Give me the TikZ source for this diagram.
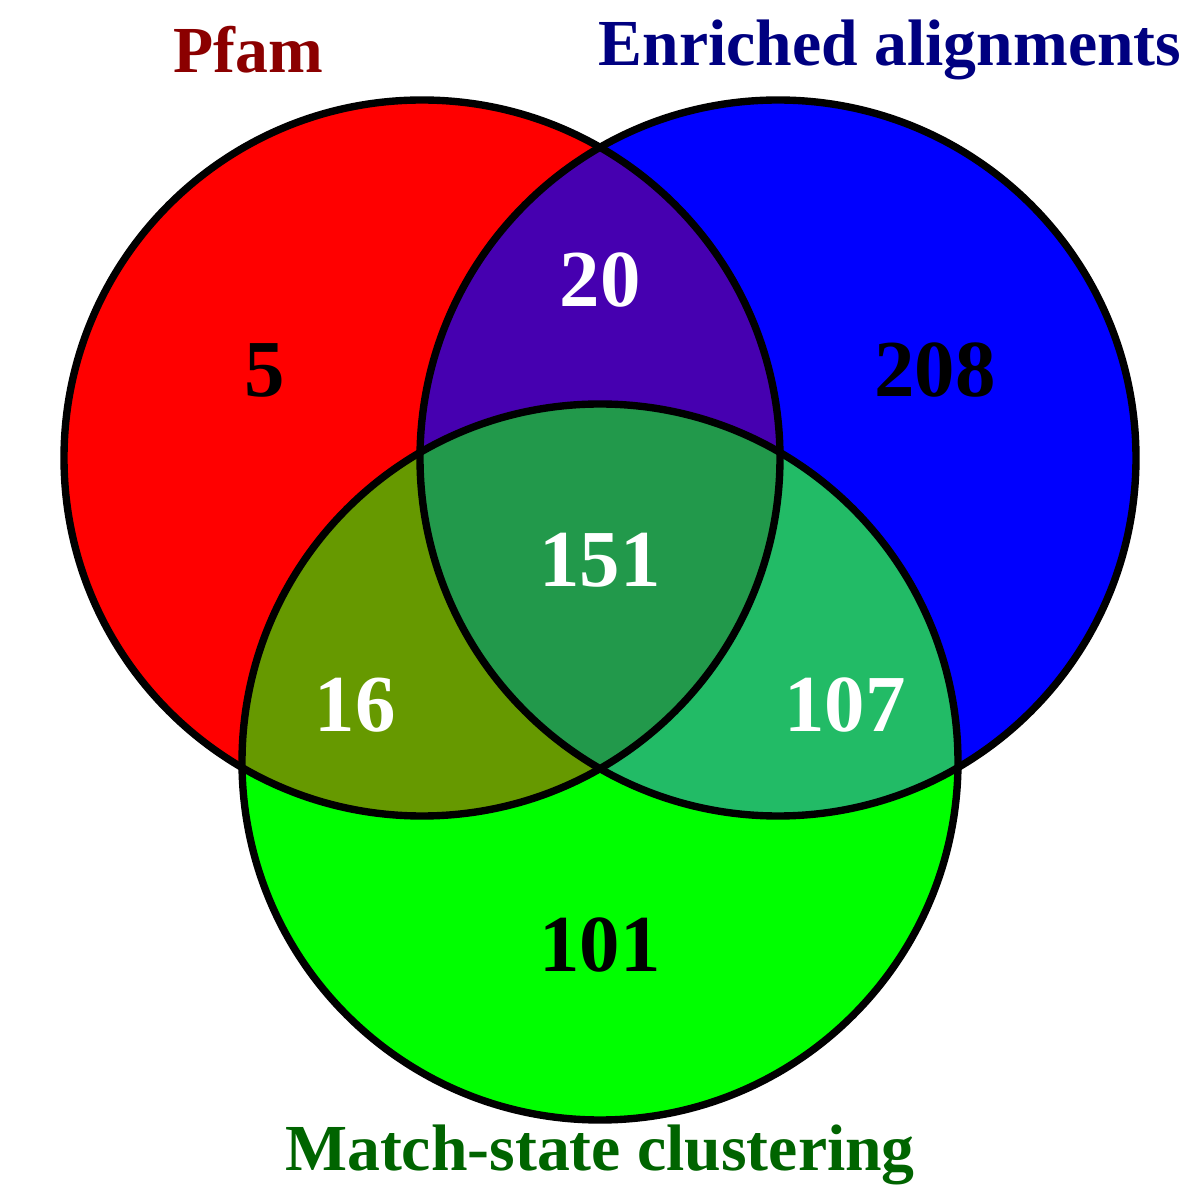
\documentclass[tikz,border=0pt]{standalone}
\usepackage{fontspec}
\setmainfont{Liberation Serif}
\usepackage{tikz}
\usepackage{xcolor}

\definecolor{pfamred}{HTML}{FF0000}
\definecolor{enrblue}{HTML}{0000FF}
\definecolor{msgreen}{HTML}{00FF00}
\definecolor{pe}{HTML}{4600B0}
\definecolor{pm}{HTML}{669900}
\definecolor{em}{HTML}{22BB66}
\definecolor{pem}{HTML}{22994B}
\definecolor{pfamtext}{HTML}{8B0000}
\definecolor{enrtext}{HTML}{000080}
\definecolor{mstext}{HTML}{006400}

\tikzset{
  num/.style={font=\fontsize{23}{25}\selectfont\bfseries},
  title/.style={font=\fontsize{18.7}{21}\selectfont\bfseries}
}

\begin{document}
\begin{tikzpicture}[scale=1]

\useasboundingbox (0,0) rectangle (12,12);

\coordinate (p) at (4.22, 7.42);
\coordinate (e) at (7.78, 7.42);
\coordinate (m) at (6.00, 4.38);

\def\rad{3.58}

\fill [pfamred] (p) circle [radius=\rad];
\fill [enrblue] (e) circle [radius=\rad];
\fill [msgreen] (m) circle [radius=\rad];

\begin{scope}
\clip (p) circle [radius=\rad];
\fill [pe] (e) circle [radius=\rad];
\fill [pm] (m) circle [radius=\rad];
\end{scope}

\begin{scope}
\clip (e) circle [radius=\rad];
\fill [em] (m) circle [radius=\rad];
\clip (p) circle [radius=\rad];
\fill [pem] (m) circle [radius=\rad];
\end{scope}

\draw [line width=2.1pt] (p) circle [radius=\rad];
\draw [line width=2.1pt] (e) circle [radius=\rad];
\draw [line width=2.1pt] (m) circle [radius=\rad];


\node [title, text=pfamtext] (pfam) at (2.48, 11.50) {Pfam};
\node [title, text=enrtext] (enr) at (8.90, 11.50) {Enriched alignments};
\node [title, text=mstext] (ms) at (6.00, 0.45) {Match-state clustering};

\node [num] (n5) at (2.65, 8.30) {5};
\node [num, white] (n20) at (6.00, 9.20) {20};
\node [num] (n208) at (9.35, 8.30) {208};
\node [num, white] (n151) at (6.00, 6.40) {151};
\node [num, white] (n16) at (3.55, 4.95) {16};
\node [num, white] (n107) at (8.45, 4.95) {107};
\node [num] (n101) at (6.00, 2.55) {101};

\end{tikzpicture}
\end{document}
